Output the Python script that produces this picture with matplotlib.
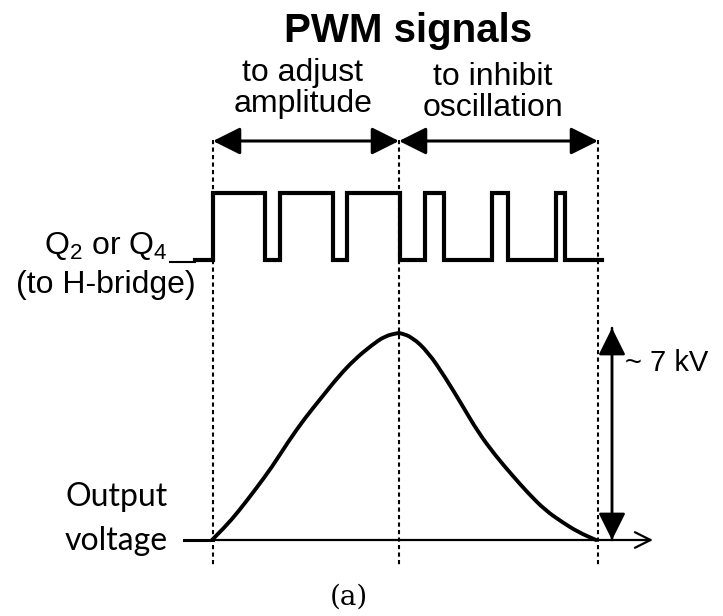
import numpy as np
import matplotlib
matplotlib.use("Agg")
import matplotlib.pyplot as plt
from matplotlib.path import Path
from matplotlib.patches import PathPatch

# diagram drawn in a pixel-like coordinate frame (x right, y down)
phase_x = [213, 399, 598]          # start, peak, end of the burst
pwm_low, pwm_high = 260, 193
pwm_start, pwm_end = 195, 602
pwm_pulses = [(213, 265), (280, 333), (347, 400), (425, 444), (492, 508), (556, 565)]

curve_x = [212, 225, 238, 255, 272, 288, 305, 322, 338, 355, 372, 385, 398,
           400, 412, 428, 445, 462, 478, 495, 512, 528, 545, 562, 578, 596]
curve_y = [540, 527, 512, 490, 467, 442, 418, 397, 377, 359, 345, 336, 333,
           333, 337, 352, 377, 405, 432, 455, 475, 493, 510, 522, 532, 540]
base_y = 540
peak_y = 328

plt.rcParams["mathtext.fontset"] = "custom"
plt.rcParams["mathtext.rm"] = "Liberation Sans"
plt.rcParams["mathtext.it"] = "Liberation Sans"

fig = plt.figure(figsize=(7.23, 6.16), dpi=100)
ax = fig.add_axes([0, 0, 1, 1])
ax.set_xlim(0, 723)
ax.set_ylim(616, 0)
ax.axis("off")

sans = "Liberation Sans"

# dotted guides
for x in phase_x:
    ax.plot([x, x], [140, 567], color="black", lw=1.5, ls=(0, (2, 1.6)))

# PWM waveform
px = [pwm_start]
py = [pwm_low]
for a, b in pwm_pulses:
    px += [a, a, b, b]
    py += [pwm_low, pwm_high, pwm_high, pwm_low]
px.append(pwm_end)
py.append(pwm_low)
ax.plot(px, py, color="black", lw=3, solid_joinstyle="miter")
ax.plot([170, pwm_start], [262, 262], color="black", lw=1.5)

# output voltage
ax.plot([184, phase_x[0]], [base_y, base_y], color="black", lw=2.2)
ax.annotate("", xy=(653, base_y), xytext=(phase_x[0], base_y),
            arrowprops=dict(arrowstyle="->", lw=1.6, color="black",
                            mutation_scale=28, shrinkA=0, shrinkB=0))

# smooth rendering of the read points (quadratic segments through midpoints)
pts = np.column_stack([curve_x, curve_y]).astype(float)
verts = [pts[0]]
codes = [Path.MOVETO]
for i in range(1, len(pts) - 1):
    mid = (pts[i] + pts[i + 1]) / 2
    verts += [pts[i], mid]
    codes += [Path.CURVE3, Path.CURVE3]
verts.append(pts[-1])
codes.append(Path.LINETO)
ax.add_patch(PathPatch(Path(verts, codes), fill=False, lw=2.8, edgecolor="black",
                       capstyle="round"))

# amplitude arrow
for a, b in [(base_y, peak_y), (peak_y, base_y)]:
    ax.annotate("", xy=(612, b), xytext=(612, a),
                arrowprops=dict(arrowstyle="-|>,head_length=0.6,head_width=0.3", lw=1.8,
                                color="black", mutation_scale=28, shrinkA=0, shrinkB=0))

# phase arrows
for a, b in [(phase_x[0], phase_x[1]), (phase_x[1], phase_x[2])]:
    ax.annotate("", xy=(b, 141), xytext=(a, 141),
                arrowprops=dict(arrowstyle="<|-|>,head_length=0.6,head_width=0.3", lw=2.2,
                                color="black", mutation_scale=28, shrinkA=0, shrinkB=0))

# texts
ax.text(408, 31, "PWM signals", family=sans, weight="bold", fontsize=29,
        ha="center", va="center")
ax.text(303, 73, "to adjust", family=sans, fontsize=23, ha="center", va="center")
ax.text(303, 104, "amplitude", family=sans, fontsize=23, ha="center", va="center")
ax.text(493, 77, "to inhibit", family=sans, fontsize=23, ha="center", va="center")
ax.text(493, 108, "oscillation", family=sans, fontsize=23, ha="center", va="center")
ax.text(168, 246, r"Q$_2$ or Q$_4$", family=sans, fontsize=23, ha="right", va="center")
ax.text(106, 285, "(to H-bridge)", family=sans, fontsize=23, ha="center", va="center")
ax.text(625, 363, "~ 7 kV", family=sans, fontsize=21, ha="left", va="center")
ax.text(168, 497, "Output", family="Lato", fontsize=23, ha="right", va="center")
ax.text(168, 541, "voltage", family="Lato", fontsize=23, ha="right", va="center")
ax.text(349, 597, "(a)", family="DejaVu Serif", fontsize=20, ha="center", va="center")

fig.savefig("out.png", dpi=100)
